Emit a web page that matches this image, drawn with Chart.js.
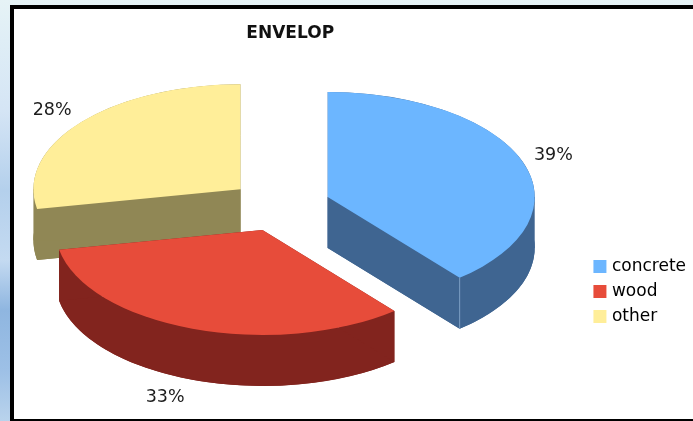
<!DOCTYPE html>
<html>
<head>
<meta charset="utf-8">
<title>ENVELOP</title>
<script src="https://cdn.jsdelivr.net/npm/chart.js@4/dist/chart.umd.min.js"></script>
<style>
    html, body { margin: 0; height: 100%; overflow: hidden; }
    body {
        position: relative;
        width: 693px;
        height: 421px;
        background: linear-gradient(180deg, #e6f3f6 0, #dfeef6 40px, #d5e5f5 110px, #b4d0ec 190px,
            #c4daf1 260px, #8fb6e0 310px, #9dc0e6 370px, #b9d3ec 421px);
    }
    #frame {
        position: absolute;
        left: 10px;
        top: 5px;
        width: 683px;
        height: 416px;
        box-sizing: border-box;
        background: #fff;
        border-style: solid;
        border-color: #000;
        border-width: 4px 0 2px 4px;
    }
    /* wider than the window so the pie sits left of the middle of its plot area */
    canvas { position: absolute; left: -29px; top: 0; }
</style>
</head>
<body>
<div id="frame"></div>
<canvas id="myChart" width="725" height="421"></canvas>
<script>
const categories = ["concrete", "wood", "other"];
const shares = [39, 33, 28];

const topColors = ["#6cb6ff", "#e74c3a", "#ffee99"];
const wallColors = ["#3f6591", "#82241e", "#908755"];
const seamColors = ["#7d9fc4", null, null];
const labelNudge = [-3, -15, -1];

// tilt of the pie: vertical squash, wall height, how far slices are pulled out
const squash = 0.507;
const depth = 51;
const explode = 51;
const labelRadius = 243;

function midAngle(arc) {
    return (arc.startAngle + arc.endAngle) / 2;
}

// the side of a slice: rim band plus vertical faces down to the lower cap
function fillWalls(ctx, cx, cy, arc, color) {
    const rx = arc.outerRadius;
    const ry = rx * squash;
    ctx.save();
    ctx.fillStyle = color;

    ctx.beginPath();
    ctx.ellipse(cx, cy, rx, ry, 0, arc.startAngle, arc.endAngle);
    ctx.ellipse(cx, cy + depth, rx, ry, 0, arc.endAngle, arc.startAngle, true);
    ctx.closePath();
    ctx.fill();

    // cut faces, and the left/right extremes where the two rims cross
    const faces = [arc.startAngle, arc.endAngle];
    [0, Math.PI].forEach((angle) => {
        if (angle > arc.startAngle && angle < arc.endAngle) {
            faces.push(angle);
        }
    });
    faces.forEach((angle) => {
        const ex = cx + Math.cos(angle) * rx;
        const ey = cy + Math.sin(angle) * ry;
        ctx.beginPath();
        ctx.moveTo(cx, cy);
        ctx.lineTo(ex, ey);
        ctx.lineTo(ex, ey + depth);
        ctx.lineTo(cx, cy + depth);
        ctx.closePath();
        ctx.fill();
    });
    ctx.restore();
}

function drawPie3d(chart) {
    const ctx = chart.ctx;
    const arcs = chart.getDatasetMeta(0).data;

    // back slices first so the front ones paint over them
    const order = arcs.map((a, i) => i).sort((p, q) => {
        return Math.sin(midAngle(arcs[p])) - Math.sin(midAngle(arcs[q]));
    });

    order.forEach((i) => {
        const arc = arcs[i];
        const options = arc.options;
        const mid = midAngle(arc);
        const dx = Math.cos(mid) * explode;
        const dy = Math.sin(mid) * explode;
        const cx = arc.x + dx;
        const cy = arc.y + dy * squash;

        const place = (drop) => {
            ctx.translate(0, arc.y + drop);
            ctx.scale(1, squash);
            ctx.translate(dx, dy - arc.y);
        };

        // lower cap, then the sides, then the seam, then the top face
        arc.options = Object.assign({}, options, { backgroundColor: wallColors[i] });
        ctx.save();
        place(depth);
        arc.draw(ctx);
        ctx.restore();
        arc.options = options;

        fillWalls(ctx, cx, cy, arc, wallColors[i]);

        if (seamColors[i]) {
            const sx = cx + Math.cos(arc.endAngle) * arc.outerRadius;
            const sy = cy + Math.sin(arc.endAngle) * arc.outerRadius * squash;
            ctx.save();
            ctx.strokeStyle = seamColors[i];
            ctx.lineWidth = 1;
            ctx.beginPath();
            ctx.moveTo(sx, sy);
            ctx.lineTo(sx, sy + depth);
            ctx.stroke();
            ctx.restore();
        }

        ctx.save();
        place(0);
        arc.draw(ctx);
        ctx.restore();
    });

    // percent labels sit just outside each slice
    ctx.save();
    ctx.font = "17.5px 'DejaVu Sans'";
    ctx.fillStyle = "#1c1c1c";
    ctx.textAlign = "center";
    ctx.textBaseline = "middle";
    arcs.forEach((arc, i) => {
        const mid = midAngle(arc);
        const r = explode + labelRadius;
        const x = arc.x + Math.cos(mid) * r + labelNudge[i];
        let y = arc.y + Math.sin(mid) * r * squash;
        if (Math.sin(mid) > 0) {
            y += depth + 1;
        }
        ctx.fillText(shares[i] + "%", x, y);
    });
    ctx.restore();
}

const pie3d = {
    id: "pie3d",
    afterLayout(chart) {
        chart.titleBlock.left += 10.5;
        chart.titleBlock.right += 10.5;
    },
    beforeDatasetsDraw(chart) {
        drawPie3d(chart);
        return false;
    }
};

const ctx = document.getElementById("myChart");
new Chart(ctx, {
    type: "pie",
    data: {
        labels: categories,
        datasets: [{
            data: shares,
            backgroundColor: topColors,
            borderWidth: 0
        }]
    },
    plugins: [pie3d],
    options: {
        responsive: false,
        animation: false,
        radius: 207,
        layout: {
            padding: { left: 0, right: 0, top: 0, bottom: 88 }
        },
        plugins: {
            title: {
                display: true,
                text: "ENVELOP",
                fullSize: false,
                color: "#111",
                font: { family: "'DejaVu Sans'", size: 17, weight: "bold" },
                padding: { top: 23, bottom: 35 }
            },
            legend: {
                position: "right",
                align: "end",
                labels: {
                    color: "#111",
                    font: { family: "'DejaVu Sans'", size: 17 },
                    boxWidth: 7,
                    boxHeight: 7,
                    padding: 8,
                    generateLabels: () => categories.map((name, i) => ({
                        text: name,
                        fillStyle: topColors[i],
                        strokeStyle: topColors[i],
                        lineWidth: 6,
                        index: i
                    }))
                }
            },
            tooltip: { enabled: false }
        }
    }
});
</script>
</body>
</html>
